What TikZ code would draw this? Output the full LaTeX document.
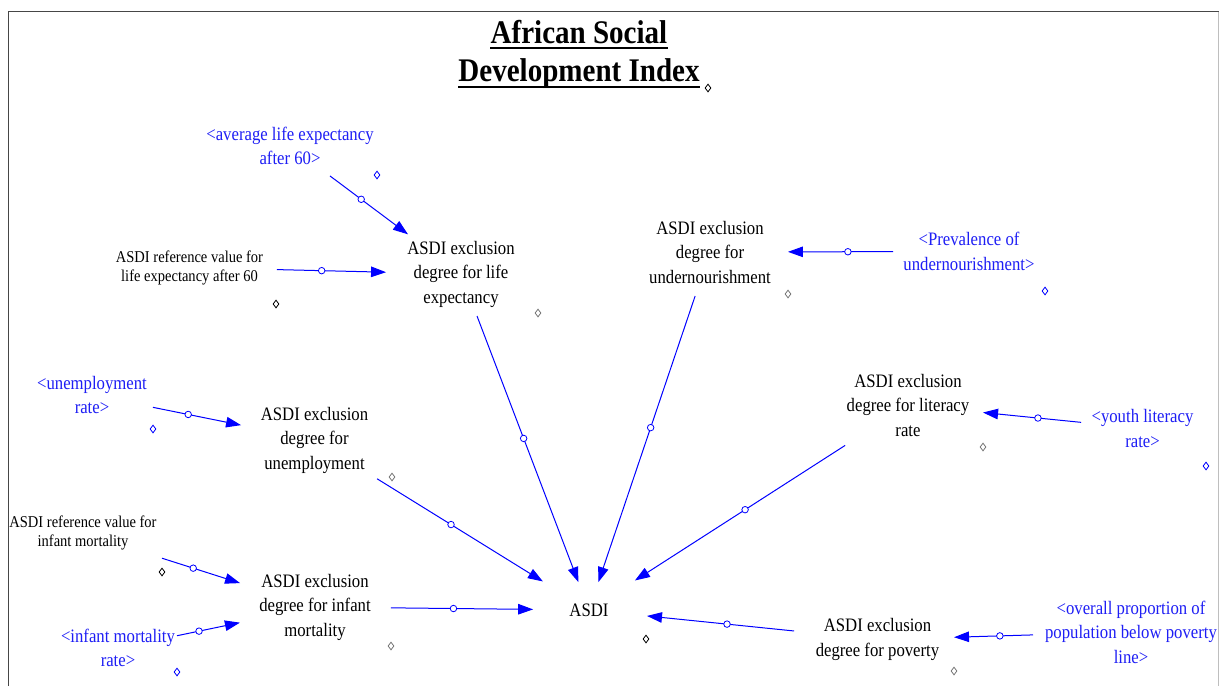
\documentclass[tikz,border=0pt]{standalone}
\usepackage{fontspec}
\setmainfont{Liberation Serif}[FakeStretch=0.88]
\usetikzlibrary{arrows.meta,shapes.geometric,calc}
\definecolor{vblue}{RGB}{0,0,255}
\definecolor{shblue}{RGB}{30,30,245}
\definecolor{framegray}{RGB}{70,70,70}
\definecolor{framelight}{RGB}{190,190,190}
\definecolor{hgray}{RGB}{120,120,120}
\begin{document}
\begin{tikzpicture}[x=1pt,y=-1pt,
  var/.style={font=\fontsize{19}{24.5}\selectfont, align=center, inner sep=0pt},
  refvar/.style={font=\fontsize{16.5}{19}\selectfont, align=center, inner sep=0pt},
  shadowvar/.style={var, text=shblue},
  titleline/.style={font=\fontsize{33}{39}\selectfont\bfseries, inner sep=0pt, anchor=base},
  link/.style={draw=vblue, line width=1pt, -{Triangle[length=15pt,width=10.5pt]}},
  valve/.style={circle, draw=vblue, fill=white, line width=0.8pt, inner sep=0pt, minimum size=6.5pt},
  handle/.style={diamond, draw=#1, fill=white, line width=0.8pt, inner sep=0pt, minimum width=6pt, minimum height=8pt},
  handle/.default=hgray,
]
\useasboundingbox (0,0) rectangle (1219,686);
\fill[white] (0,0) rectangle (1219,686);
% frame
\draw[framegray, line width=1.6pt] (8.5,686) -- (8.5,11.5) -- (1219,11.5);
\draw[framelight, line width=1pt] (1218.3,11.5) -- (1218.3,686);

% title
\node[titleline] (t1) at (579,43) {African Social};
\node[titleline] (t2) at (579,81) {Development Index};
\draw[line width=2.5pt] ([yshift=-5pt]t1.base west) -- ([yshift=-5pt]t1.base east);
\draw[line width=2.5pt] ([yshift=-6pt]t2.base west) -- ([yshift=-6pt]t2.base east);
\node[handle=black] (h0) at (708,88) {};

% variables
\node[shadowvar] (avglife) at (290,146) {<average life expectancy\\after 60>};
\node[refvar] (reflife) at (189.5,267.5) {ASDI reference value for\\life expectancy after 60};
\node[var] (exlife) at (461,274) {ASDI exclusion\\degree for life\\expectancy};
\node[var] (exunder) at (710,252) {ASDI exclusion\\degree for\\undernourishment};
\node[shadowvar] (prev) at (969,251.5) {<Prevalence of\\undernourishment>};
\node[shadowvar] (unrate) at (92,395) {<unemployment\\rate>};
\node[var] (exunemp) at (314.5,440) {ASDI exclusion\\degree for\\unemployment};
\node[var] (exlit) at (908,405) {ASDI exclusion\\degree for literacy\\rate};
\node[shadowvar] (youth) at (1142.5,428.5) {<youth literacy\\rate>};
\node[refvar] (refinf) at (83,533) {ASDI reference value for\\infant mortality};
\node[var] (exinf) at (315,607) {ASDI exclusion\\degree for infant\\mortality};
\node[shadowvar] (infrate) at (118,648) {<infant mortality\\rate>};
\node[var] (asdi) at (589,610) {ASDI};
\node[var] (expov) at (877.5,639.5) {ASDI exclusion\\degree for poverty};
\node[shadowvar] (overall) at (1131,632) {<overall proportion of\\population below poverty\\line>};

% handles
\node[handle=vblue] (h1) at (377,175) {};
\node[handle=black] (h2) at (276,304) {};
\node[handle] (h3) at (538,313) {};
\node[handle] (h4) at (788,294) {};
\node[handle=vblue] (h5) at (1045,291) {};
\node[handle=vblue] (h6) at (153,429) {};
\node[handle] (h7) at (392,477) {};
\node[handle] (h8) at (983,447) {};
\node[handle=vblue] (h9) at (1206,466) {};
\node[handle=black] (h10) at (162,572) {};
\node[handle] (h11) at (391,646) {};
\node[handle=vblue] (h12) at (177,672) {};
\node[handle=black] (h13) at (646,639) {};
\node[handle] (h14) at (954,671) {};

% links
\draw[link] ($(avglife)!0.234!(exlife)$) -- node[valve, pos=0.40] (v1) {} ($(avglife)!0.69!(exlife)$);
\draw[link] ($(reflife)!0.322!(exlife)$) -- node[valve, pos=0.41] (v2) {} ($(reflife)!0.724!(exlife)$);
\draw[link] ($(exlife)!0.125!(asdi)$) -- node[valve, pos=0.46] (v3) {} ($(exlife)!0.917!(asdi)$);
\draw[link] ($(exunder)!0.123!(asdi)$) -- node[valve, pos=0.46] (v4) {} ($(exunder)!0.922!(asdi)$);
\draw[link] ($(exlit)!0.197!(asdi)$) -- node[valve, pos=0.476] (v5) {} ($(exlit)!0.856!(asdi)$);
\draw[link] ($(exunemp)!0.228!(asdi)$) -- node[valve, pos=0.446] (v6) {} ($(exunemp)!0.832!(asdi)$);
\draw[link] ($(exinf)!0.277!(asdi)$) -- node[valve, pos=0.44] (v7) {} ($(exinf)!0.796!(asdi)$);
\draw[link] ($(expov)!0.289!(asdi)$) -- node[valve, pos=0.456] (v8) {} ($(expov)!0.799!(asdi)$);
\draw[link] ($(prev)!0.293!(exunder)$) -- node[valve, pos=0.43] (v9) {} ($(prev)!0.699!(exunder)$);
\draw[link] ($(youth)!0.262!(exlit)$) -- node[valve, pos=0.44] (v10) {} ($(youth)!0.68!(exlit)$);
\draw[link] ($(unrate)!0.274!(exunemp)$) -- node[valve, pos=0.40] (v11) {} ($(unrate)!0.67!(exunemp)$);
\draw[link] ($(refinf)!0.3405!(exinf)$) -- node[valve, pos=0.40] (v12) {} ($(refinf)!0.677!(exinf)$);
\draw[link] ($(infrate)!0.2995!(exinf)$) -- node[valve, pos=0.35] (v13) {} ($(infrate)!0.619!(exinf)$);
\draw[link] ($(overall)!0.3866!(expov)$) -- node[valve, pos=0.42] (v14) {} ($(overall)!0.698!(expov)$);
\end{tikzpicture}
\end{document}
